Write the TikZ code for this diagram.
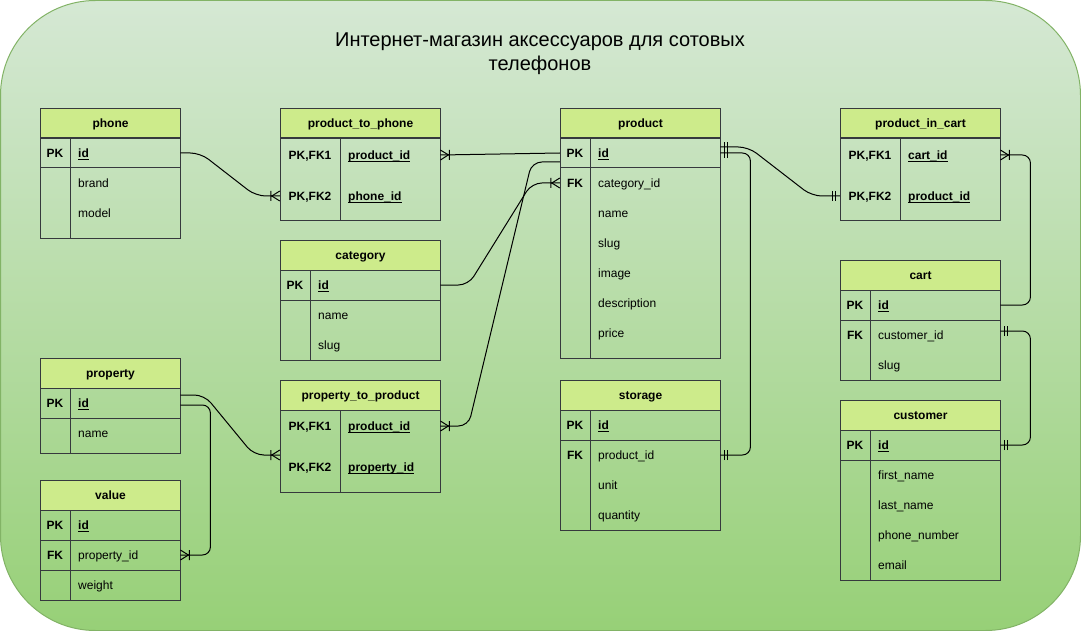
\documentclass[tikz,border=0pt]{standalone}
\usepackage{fontspec}
\setmainfont{Liberation Sans}
\usetikzlibrary{calc}
\definecolor{hdrc}{HTML}{CDEB8B}
\definecolor{tblc}{HTML}{36393D}
\definecolor{bgtop}{HTML}{D5E8D4}
\definecolor{bgbot}{HTML}{97D077}
\definecolor{bgline}{HTML}{82B366}
\newcommand{\myul}[1]{\setbox0=\hbox{#1}\rlap{\vrule height -1.6pt depth 2.5pt width \wd0}\box0}
\pgfdeclarearrow{
  name=ERmany,
  setup code={
    \pgfarrowssettipend{0pt}
    \pgfarrowssetlineend{0pt}
    \pgfarrowssetbackend{-9pt}
    \pgfarrowsupperhullpoint{0pt}{5pt}
    \pgfarrowsupperhullpoint{-9pt}{5pt}
  },
  drawing code={
    \pgfsetdash{}{0pt}
    \pgfpathmoveto{\pgfqpoint{0pt}{5pt}}
    \pgfpathlineto{\pgfqpoint{-8pt}{0pt}}
    \pgfpathlineto{\pgfqpoint{0pt}{-5pt}}
    \pgfpathmoveto{\pgfqpoint{-9pt}{5pt}}
    \pgfpathlineto{\pgfqpoint{-9pt}{-5pt}}
    \pgfusepathqstroke
  }
}
\pgfdeclarearrow{
  name=ERmone,
  setup code={
    \pgfarrowssettipend{0pt}
    \pgfarrowssetlineend{0pt}
    \pgfarrowssetbackend{-8pt}
    \pgfarrowsupperhullpoint{0pt}{5pt}
    \pgfarrowsupperhullpoint{-8pt}{5pt}
  },
  drawing code={
    \pgfsetdash{}{0pt}
    \pgfpathmoveto{\pgfqpoint{-4pt}{5pt}}
    \pgfpathlineto{\pgfqpoint{-4pt}{-5pt}}
    \pgfpathmoveto{\pgfqpoint{-7pt}{5pt}}
    \pgfpathlineto{\pgfqpoint{-7pt}{-5pt}}
    \pgfusepathqstroke
  }
}
\begin{document}
\begin{tikzpicture}[x=1pt,y=-1pt,
  font=\fontsize{12pt}{14pt}\selectfont,
  tbl/.style={draw=tblc, line width=1pt},
  hdr/.style={draw=tblc, line width=1pt, fill=hdrc, anchor=north west, minimum height=30pt, inner sep=0pt, text height=10.9pt, text depth=2.5pt, font=\fontsize{12pt}{14pt}\selectfont\bfseries},
  keyc/.style={minimum width=#1, minimum height=30pt, inner sep=0pt, text height=10.9pt, text depth=2.5pt, font=\fontsize{12pt}{14pt}\selectfont\bfseries},
  fld/.style={anchor=west, text width=#1, inner xsep=8pt, inner ysep=0pt, minimum height=30pt, text height=10.9pt, text depth=2.5pt, align=left},
  pkf/.style={fld=#1, font=\fontsize{12pt}{14pt}\selectfont\bfseries},
  conn/.style={draw=black, line width=1pt, rounded corners=10pt},
  title/.style={font=\fontsize{20pt}{23.5pt}\selectfont, align=center}
]
\useasboundingbox (0,0) rectangle (1081,631);
\path[draw=bgline, top color=bgtop, bottom color=bgbot, rounded corners=95pt, line width=1pt] (0.5,0.5) rectangle (1080.5,630.5);

\node[title] (ttl) at (540,53.5) {Интернет-магазин аксессуаров для сотовых\\телефонов};

% phone
\node[hdr, minimum width=140pt] (phone) at (40,108) {phone};
\draw[tbl] (40,138) rectangle (180,238);
\draw[tbl] (70,138) -- (70,238);
\draw[tbl] (40,168) -- (180,168);
\node[keyc=30pt] (phone-pk) at (55,153) {PK};
\node[pkf=94pt] (phone-id) at (70,153) {\myul{id}};
\node[fld=94pt] (phone-brand) at (70,183) {brand};
\node[fld=94pt] (phone-model) at (70,213) {model};

% product_to_phone
\node[hdr, minimum width=160pt] (ptp) at (280,108) {product\_to\_phone};
\draw[tbl] (280,138) rectangle (440,220);
\draw[tbl] (340,138) -- (340,220);
\node[keyc=60pt] (ptp-k1) at (310,155) {PK,FK1};
\node[pkf=84pt] (ptp-product) at (340,155) {\myul{product\_id}};
\node[keyc=60pt] (ptp-k2) at (310,196) {PK,FK2};
\node[pkf=84pt] (ptp-phone) at (340,196) {\myul{phone\_id}};

% category
\node[hdr, minimum width=160pt] (category) at (280,240) {category};
\draw[tbl] (280,270) rectangle (440,360);
\draw[tbl] (310,270) -- (310,360);
\draw[tbl] (280,300) -- (440,300);
\node[keyc=30pt] (cat-pk) at (295,285) {PK};
\node[pkf=114pt] (cat-id) at (310,285) {\myul{id}};
\node[fld=114pt] (cat-name) at (310,315) {name};
\node[fld=114pt] (cat-slug) at (310,345) {slug};

% property_to_product
\node[hdr, minimum width=160pt] (ptr) at (280,380) {property\_to\_product};
\draw[tbl] (280,410) rectangle (440,492);
\draw[tbl] (340,410) -- (340,492);
\node[keyc=60pt] (ptr-k1) at (310,426) {PK,FK1};
\node[pkf=84pt] (ptr-product) at (340,426) {\myul{product\_id}};
\node[keyc=60pt] (ptr-k2) at (310,467) {PK,FK2};
\node[pkf=84pt] (ptr-property) at (340,467) {\myul{property\_id}};

% product
\node[hdr, minimum width=160pt] (product) at (560,108) {product};
\draw[tbl] (560,138) rectangle (720,358);
\draw[tbl] (590,138) -- (590,358);
\draw[tbl] (560,168) -- (720,168);
\node[keyc=30pt] (product-pk) at (575,153) {PK};
\node[pkf=114pt] (product-id) at (590,153) {\myul{id}};
\node[keyc=30pt] (product-fk) at (575,183) {FK};
\node[fld=114pt] (product-cat) at (590,183) {category\_id};
\node[fld=114pt] (product-name) at (590,213) {name};
\node[fld=114pt] (product-slug) at (590,243) {slug};
\node[fld=114pt] (product-image) at (590,273) {image};
\node[fld=114pt] (product-desc) at (590,303) {description};
\node[fld=114pt] (product-price) at (590,333) {price};

% storage
\node[hdr, minimum width=160pt] (storage) at (560,380) {storage};
\draw[tbl] (560,410) rectangle (720,530);
\draw[tbl] (590,410) -- (590,530);
\draw[tbl] (560,440) -- (720,440);
\node[keyc=30pt] (storage-pk) at (575,425) {PK};
\node[pkf=114pt] (storage-id) at (590,425) {\myul{id}};
\node[keyc=30pt] (storage-fk) at (575,455) {FK};
\node[fld=114pt] (storage-pid) at (590,455) {product\_id};
\node[fld=114pt] (storage-unit) at (590,485) {unit};
\node[fld=114pt] (storage-qty) at (590,515) {quantity};

% product_in_cart
\node[hdr, minimum width=160pt] (pic) at (840,108) {product\_in\_cart};
\draw[tbl] (840,138) rectangle (1000,220);
\draw[tbl] (900,138) -- (900,220);
\node[keyc=60pt] (pic-k1) at (870,155) {PK,FK1};
\node[pkf=84pt] (pic-cart) at (900,155) {\myul{cart\_id}};
\node[keyc=60pt] (pic-k2) at (870,196) {PK,FK2};
\node[pkf=84pt] (pic-product) at (900,196) {\myul{product\_id}};

% cart
\node[hdr, minimum width=160pt] (cart) at (840,260) {cart};
\draw[tbl] (840,290) rectangle (1000,380);
\draw[tbl] (870,290) -- (870,380);
\draw[tbl] (840,320) -- (1000,320);
\node[keyc=30pt] (cart-pk) at (855,305) {PK};
\node[pkf=114pt] (cart-id) at (870,305) {\myul{id}};
\node[keyc=30pt] (cart-fk) at (855,335) {FK};
\node[fld=114pt] (cart-cust) at (870,335) {customer\_id};
\node[fld=114pt] (cart-slug) at (870,365) {slug};

% customer
\node[hdr, minimum width=160pt] (customer) at (840,400) {customer};
\draw[tbl] (840,430) rectangle (1000,580);
\draw[tbl] (870,430) -- (870,580);
\draw[tbl] (840,460) -- (1000,460);
\node[keyc=30pt] (cust-pk) at (855,445) {PK};
\node[pkf=114pt] (cust-id) at (870,445) {\myul{id}};
\node[fld=114pt] (cust-first) at (870,475) {first\_name};
\node[fld=114pt] (cust-last) at (870,505) {last\_name};
\node[fld=114pt] (cust-phone) at (870,535) {phone\_number};
\node[fld=114pt] (cust-email) at (870,565) {email};

% property
\node[hdr, minimum width=140pt] (property) at (40,358) {property};
\draw[tbl] (40,388) rectangle (180,453);
\draw[tbl] (70,388) -- (70,453);
\draw[tbl] (40,418) -- (180,418);
\node[keyc=30pt] (prop-pk) at (55,403) {PK};
\node[pkf=94pt] (prop-id) at (70,403) {\myul{id}};
\node[fld=94pt] (prop-name) at (70,433) {name};

% value
\node[hdr, minimum width=140pt] (value) at (40,480) {value};
\draw[tbl] (40,510) rectangle (180,600);
\draw[tbl] (70,510) -- (70,600);
\draw[tbl] (40,540) -- (180,540);
\draw[tbl] (40,570) -- (180,570);
\node[keyc=30pt] (val-pk) at (55,525) {PK};
\node[pkf=94pt] (val-id) at (70,525) {\myul{id}};
\node[keyc=30pt] (val-fk) at (55,555) {FK};
\node[fld=94pt] (val-pid) at (70,555) {property\_id};
\node[fld=94pt] (val-weight) at (70,585) {weight};

% connectors
\draw[conn, -ERmany] (phone-id.east) -- ++(20,0) -- ($(ptp-k2.west)+(-24,0)$) -- (ptp-k2.west);
\draw[conn, -ERmany] (product-pk.west) -- (ptp-product.east);
\draw[conn, -ERmany] (cat-id.east) -- ++(28,0) -- ($(product-fk.west)+(-28,0)$) -- (product-fk.west);
\draw[conn, -ERmany] ($(product-pk.west)+(0,9)$) -- ++(-28,0) -- ($(ptr-product.east)+(28,0)$) -- (ptr-product.east);
\draw[conn, ERmone-ERmone] ($(product-id.east)+(0,-6)$) -- ++(28,0) -- ($(pic-k2.west)+(-28,0)$) -- (pic-k2.west);
\draw[conn, ERmone-ERmone, rounded corners=8pt] (product-id.east) -- ++(30,0) -- ($(storage-pid.east)+(30,0)$) -- (storage-pid.east);
\draw[conn, -ERmany, rounded corners=8pt] (cart-id.east) -- ++(30,0) -- ($(pic-cart.east)+(30,0)$) -- (pic-cart.east);
\draw[conn, ERmone-ERmone, rounded corners=8pt] ($(cart-cust.east)+(0,-4)$) -- ++(30,0) -- ($(cust-id.east)+(30,0)$) -- (cust-id.east);
\draw[conn, -ERmany] ($(prop-id.east)+(0,-8)$) -- ++(24,0) -- ($(ptr-k2.west)+(-26,-12)$) -- ($(ptr-k2.west)+(0,-12)$);
\draw[conn, -ERmany, rounded corners=8pt] ($(prop-id.east)+(0,2)$) -- ++(30,0) -- ($(val-pid.east)+(30,0)$) -- (val-pid.east);
\end{tikzpicture}
\end{document}
